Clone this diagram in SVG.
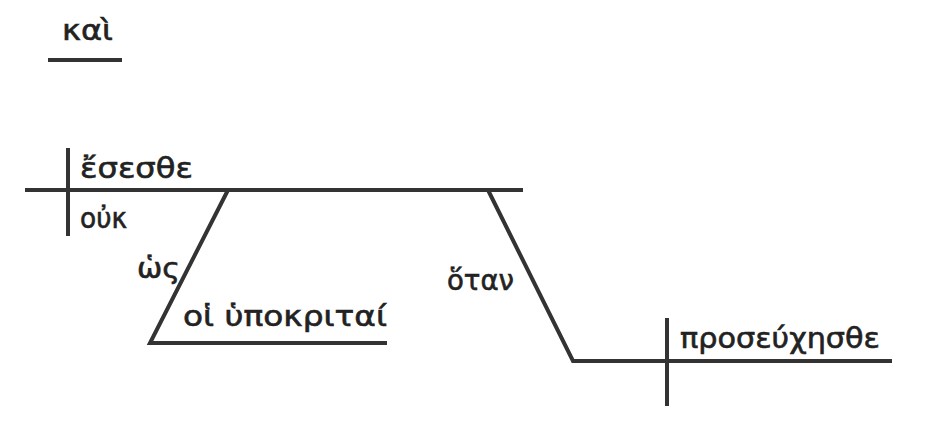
<svg xmlns="http://www.w3.org/2000/svg" width="938" height="432" viewBox="0 0 938 432">
<style>
.l{stroke:#333;stroke-width:4;fill:none;stroke-linecap:butt}
text{font-family:"DejaVu Sans","Noto Sans",sans-serif;font-size:28px;fill:#222;stroke:#222;stroke-width:0.6}
</style>
<rect width="938" height="432" fill="#fff"/>
<g id="connectors">
<line class="l" x1="48" y1="60" x2="122" y2="60"/>
<line class="l" x1="25" y1="190" x2="523" y2="190"/>
<line class="l" x1="68" y1="148" x2="68" y2="236"/>
<polyline class="l" points="228,190 150,343 387,343"/>
<polyline class="l" points="488,190 573,361 892,361"/>
<line class="l" x1="667" y1="318" x2="667" y2="406"/>
</g>
<g id="kai"><text x="62" y="40" textLength="51" lengthAdjust="spacingAndGlyphs">καὶ</text></g>
<g id="esesthe"><text x="80" y="178" textLength="113" lengthAdjust="spacingAndGlyphs">ἔσεσθε</text></g>
<g id="ouk"><text x="80" y="228" textLength="47" lengthAdjust="spacingAndGlyphs">οὐκ</text></g>
<g id="hos"><text x="137" y="278" textLength="43" lengthAdjust="spacingAndGlyphs">ὡς</text></g>
<g id="hypokritai"><text x="183" y="326" textLength="204" lengthAdjust="spacingAndGlyphs">οἱ ὑποκριταί</text></g>
<g id="hotan"><text x="447" y="290" textLength="67" lengthAdjust="spacingAndGlyphs">ὅταν</text></g>
<g id="proseuchesthe"><text x="680" y="348" textLength="200" lengthAdjust="spacingAndGlyphs">προσεύχησθε</text></g>
</svg>
